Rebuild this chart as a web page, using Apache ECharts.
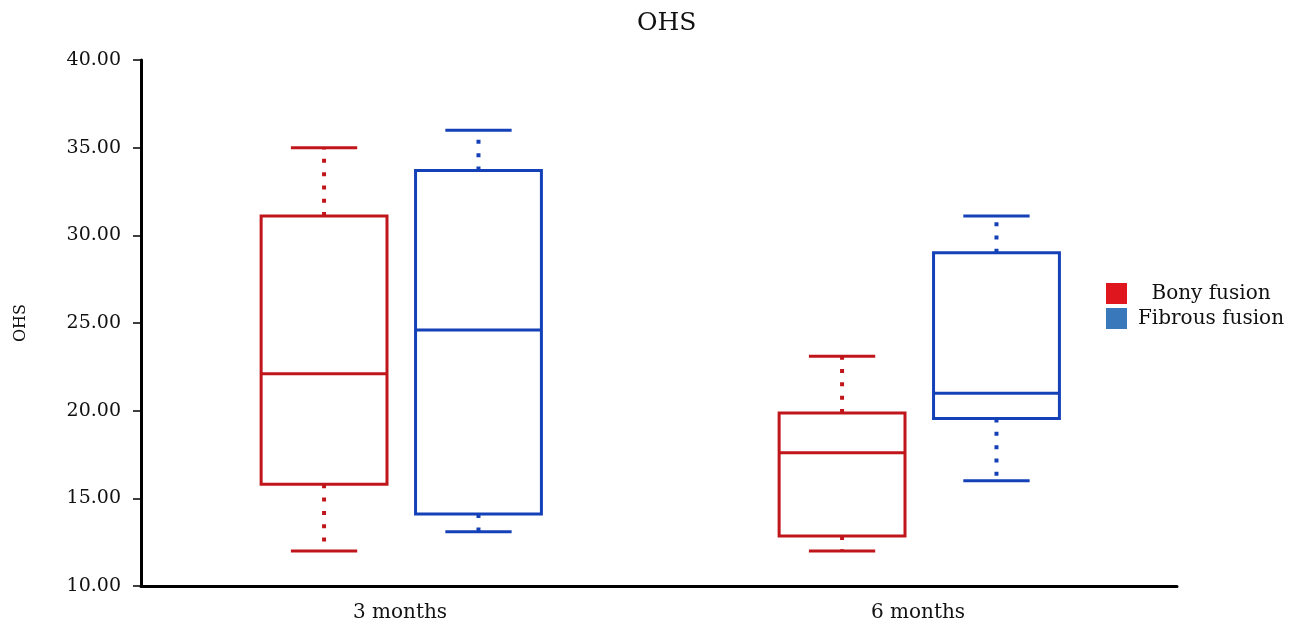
<!DOCTYPE html>
<html>
<head>
<meta charset="utf-8">
<script src="https://cdn.jsdelivr.net/npm/echarts@6/dist/echarts.min.js"></script>
<style>
  html, body { margin: 0; padding: 0; background: #fff; }
  #chart { width: 1297px; height: 629px; }
</style>
</head>
<body>
<div id="chart"></div>
<script>
// Time points on the x axis
const categories = ['3 months', '6 months'];
// Box statistics per time point: [min, Q1, median, Q3, max]
const bonyFusion = [
  [12.0, 15.8, 22.1, 31.1, 35.0],
  [12.0, 12.85, 17.6, 19.87, 23.1]
];
const fibrousFusion = [
  [13.1, 14.1, 24.6, 33.7, 36.0],
  [16.0, 19.55, 21.0, 29.0, 31.1]
];
const seriesNames = ['Bony fusion', 'Fibrous fusion'];
const lineColors = ['#c0161b', '#1541b8'];
const legendColors = ['#e0161e', '#3a78bc'];

const FONT = '"DejaVu Serif", "Liberation Serif", serif';

// Draws one box with dotted whiskers and flat caps, offset within its category band
function makeRenderer(offsetFrac, color) {
  return function (params, api) {
    const cat = api.value(0);
    const band = api.size([1, 0])[0];
    const cx = api.coord([cat, 0])[0] + band * offsetFrac;
    const half = band * 0.1215;
    const capHalf = band * 0.064;
    const y = (i) => api.coord([cat, api.value(i)])[1];
    const yMin = y(1), yQ1 = y(2), yMed = y(3), yQ3 = y(4), yMax = y(5);
    const solid = { stroke: color, lineWidth: 3, fill: null };
    const dotted = { stroke: color, lineWidth: 4, lineDash: [4, 9.3], fill: null };
    return {
      type: 'group',
      children: [
        { type: 'line', shape: { x1: cx, y1: yQ3, x2: cx, y2: yMax }, style: dotted },
        { type: 'line', shape: { x1: cx, y1: yQ1, x2: cx, y2: yMin }, style: dotted },
        { type: 'line', shape: { x1: cx - capHalf, y1: yMax, x2: cx + capHalf, y2: yMax }, style: solid },
        { type: 'line', shape: { x1: cx - capHalf, y1: yMin, x2: cx + capHalf, y2: yMin }, style: solid },
        { type: 'rect', shape: { x: cx - half, y: yQ3, width: half * 2, height: yQ1 - yQ3 }, style: { stroke: color, lineWidth: 3, fill: '#fff' } },
        { type: 'line', shape: { x1: cx - half, y1: yMed, x2: cx + half, y2: yMed }, style: solid }
      ]
    };
  };
}

function toData(stats) {
  return stats.map((s, i) => [i].concat(s));
}

const chart = echarts.init(document.getElementById('chart'), null, { renderer: 'canvas' });
chart.setOption({
  animation: false,
  backgroundColor: '#ffffff',
  title: {
    text: 'OHS',
    left: 632,
    top: 6,
    textStyle: { fontFamily: FONT, fontSize: 25, fontWeight: 'normal', color: '#111' }
  },
  legend: {
    orient: 'vertical',
    left: 1106,
    top: 283,
    padding: 0,
    itemWidth: 21,
    itemHeight: 21,
    itemGap: 4,
    icon: 'rect',
    formatter: (name) => '{c|' + name + '}',
    textStyle: {
      fontFamily: FONT, fontSize: 20, color: '#111', padding: [0, 0, 0, 3],
      rich: { c: { width: 152, align: 'center', fontFamily: FONT, fontSize: 20, color: '#111' } }
    },
    data: seriesNames.map((n, i) => ({ name: n, itemStyle: { color: legendColors[i] } }))
  },
  grid: { left: 141, right: 120, top: 60, bottom: 43 },
  xAxis: {
    type: 'category',
    data: categories,
    axisLine: { lineStyle: { color: '#000', width: 3 } },
    axisTick: { alignWithLabel: true, length: 8, lineStyle: { color: '#000', width: 1.5 } },
    axisLabel: { fontFamily: FONT, fontSize: 20, color: '#111', margin: 17 },
    splitLine: { show: false }
  },
  yAxis: {
    type: 'value',
    min: 10,
    max: 40,
    interval: 5,
    name: 'OHS',
    nameLocation: 'middle',
    nameGap: 112,
    nameRotate: 90,
    nameTextStyle: { fontFamily: FONT, fontSize: 16, color: '#111' },
    axisLine: { show: true, lineStyle: { color: '#000', width: 3 } },
    axisTick: { show: true, length: 8, lineStyle: { color: '#000', width: 1.5 } },
    axisLabel: {
      fontFamily: FONT, fontSize: 19, color: '#111', margin: 20,
      formatter: (v) => v.toFixed(2)
    },
    splitLine: { show: false }
  },
  series: [
    {
      name: seriesNames[0],
      type: 'custom',
      itemStyle: { color: legendColors[0] },
      encode: { x: 0, y: [1, 2, 3, 4, 5] },
      renderItem: makeRenderer(-0.1466, lineColors[0]),
      data: toData(bonyFusion)
    },
    {
      name: seriesNames[1],
      type: 'custom',
      itemStyle: { color: legendColors[1] },
      encode: { x: 0, y: [1, 2, 3, 4, 5] },
      renderItem: makeRenderer(0.1515, lineColors[1]),
      data: toData(fibrousFusion)
    }
  ]
});
</script>
</body>
</html>
